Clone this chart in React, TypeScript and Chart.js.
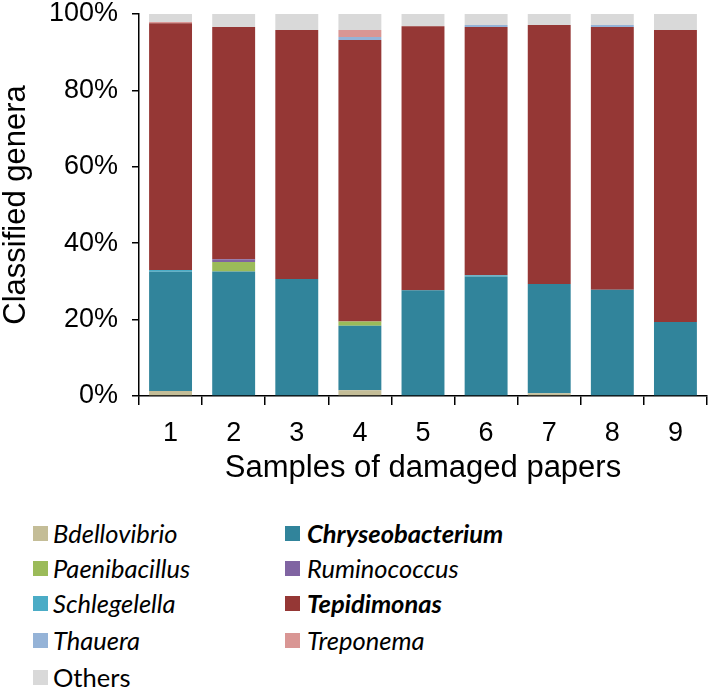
import React, { useEffect, useRef } from "react";
import { Chart, registerables } from "chart.js";

Chart.register(...registerables);

const samples = ["1", "2", "3", "4", "5", "6", "7", "8", "9"];
const yTicks = [0, 20, 40, 60, 80, 100];

const bdellovibrio = [1.3, 0, 0, 1.5, 0, 0, 0.7, 0, 0];
const chryseobacterium = [31.2, 32.6, 30.6, 16.9, 27.7, 31.3, 28.6, 27.8, 19.4];
const paenibacillus = [0, 2.5, 0, 1.1, 0, 0, 0, 0, 0];
const ruminococcus = [0, 0.7, 0, 0, 0, 0, 0, 0, 0];
const schlegelella = [0.5, 0, 0, 0, 0, 0.3, 0, 0, 0];
const tepidimonas = [64.6, 60.8, 65.2, 73.7, 69.1, 65.0, 67.8, 68.8, 76.4];
const thauera = [0, 0, 0, 0.8, 0, 0.5, 0, 0.5, 0];
const treponema = [0.3, 0, 0, 1.8, 0, 0, 0, 0, 0];
const others = [2.1, 3.4, 4.2, 4.2, 3.2, 2.9, 2.9, 2.9, 4.2];

const seriesNames = [
  "Bdellovibrio",
  "Chryseobacterium",
  "Paenibacillus",
  "Ruminococcus",
  "Schlegelella",
  "Tepidimonas",
  "Thauera",
  "Treponema",
  "Others",
];
const seriesValues = [
  bdellovibrio,
  chryseobacterium,
  paenibacillus,
  ruminococcus,
  schlegelella,
  tepidimonas,
  thauera,
  treponema,
  others,
];
const seriesColors = [
  "#C4BD97",
  "#31849B",
  "#9BBB59",
  "#8064A2",
  "#4BACC6",
  "#953735",
  "#95B3D7",
  "#D99694",
  "#D9D9D9",
];
const seriesBold = [false, true, false, false, false, true, false, false, false];
const seriesItalic = [true, true, true, true, true, true, true, true, false];

// legend layout: two columns, read row-wise
const legendOrder = [
  ["Bdellovibrio", "Chryseobacterium"],
  ["Paenibacillus", "Ruminococcus"],
  ["Schlegelella", "Tepidimonas"],
  ["Thauera", "Treponema"],
  ["Others"],
];

const AXIS_FONT = "'Liberation Sans', Arial, sans-serif";
const LEGEND_FONT = "Lato, 'Open Sans', sans-serif";

function BarChart() {
  const ref = useRef<HTMLCanvasElement | null>(null);
  useEffect(() => {
    if (!ref.current) return;
    const chart = new Chart(ref.current, {
      type: "bar",
      data: {
        labels: samples,
        datasets: seriesNames.map((name, i) => ({
          label: name,
          data: seriesValues[i],
          backgroundColor: seriesColors[i],
          borderWidth: 0,
          barPercentage: 0.68,
          categoryPercentage: 1,
        })),
      },
      options: {
        animation: false,
        responsive: false,
        maintainAspectRatio: false,
        layout: { padding: { top: 14, right: 2, left: 0, bottom: 0 } },
        plugins: {
          legend: { display: false },
          tooltip: { enabled: false },
        },
        scales: {
          x: {
            stacked: true,
            afterFit: (s: any) => {
              s.height = 104;
            },
            border: { display: true, color: "#000", width: 1.5 },
            grid: {
              display: true,
              offset: true,
              drawOnChartArea: false,
              drawTicks: true,
              tickLength: 9,
              color: "#000",
              lineWidth: 1.5,
            },
            ticks: {
              color: "#000",
              padding: 12,
              font: { family: AXIS_FONT, size: 27 },
            },
            title: {
              display: true,
              text: "Samples of damaged papers",
              color: "#000",
              font: { family: AXIS_FONT, size: 31, lineHeight: 1 },
              padding: { top: 0, bottom: 16 },
            },
          },
          y: {
            stacked: true,
            min: 0,
            max: 100,
            afterFit: (s: any) => {
              s.width = 139;
              s.paddingTop = 0;
              s.paddingBottom = 0;
            },
            afterBuildTicks: (s: any) => {
              s.ticks = yTicks.map((v) => ({ value: v }));
            },
            border: { display: true, color: "#000", width: 1.5 },
            grid: {
              display: true,
              drawOnChartArea: false,
              drawTicks: true,
              tickLength: 7,
              color: "#000",
              lineWidth: 1.5,
            },
            ticks: {
              color: "#000",
              padding: 14,
              font: { family: AXIS_FONT, size: 27 },
              callback: (v: any) => v + "%",
            },
            title: {
              display: true,
              text: "Classified genera",
              color: "#000",
              font: { family: AXIS_FONT, size: 31, lineHeight: 1 },
              padding: { top: 1, bottom: 0 },
            },
          },
        },
      },
    });
    return () => chart.destroy();
  }, []);
  return <canvas ref={ref} width={709} height={500} style={{ display: "block" }} />;
}

function Legend() {
  const rowTop = [520, 555, 590, 627, 664];
  const colX = [33, 285];
  return (
    <>
      {legendOrder.map((row, r) =>
        row.map((name, c) => {
          const i = seriesNames.indexOf(name);
          return (
            <div
              key={name}
              style={{
                position: "absolute",
                left: colX[c],
                top: rowTop[r],
                height: 26,
                display: "flex",
                alignItems: "center",
                whiteSpace: "nowrap",
              }}
            >
              <span
                style={{
                  display: "inline-block",
                  width: 15,
                  height: 15,
                  background: seriesColors[i],
                  marginRight: c === 0 ? 5 : 7,
                }}
              />
              <span
                style={{
                  fontFamily: LEGEND_FONT,
                  fontSize: 25.5,
                  fontStyle: seriesItalic[i] ? "italic" : "normal",
                  fontWeight: seriesBold[i] ? 700 : 400,
                  color: "#000",
                  lineHeight: "26px",
                }}
              >
                {name}
              </span>
            </div>
          );
        })
      )}
    </>
  );
}

export default function App() {
  return (
    <div
      style={{
        position: "fixed",
        left: 0,
        top: 0,
        width: 709,
        height: 689,
        background: "#fff",
        overflow: "hidden",
      }}
    >
      <BarChart />
      <Legend />
    </div>
  );
}
